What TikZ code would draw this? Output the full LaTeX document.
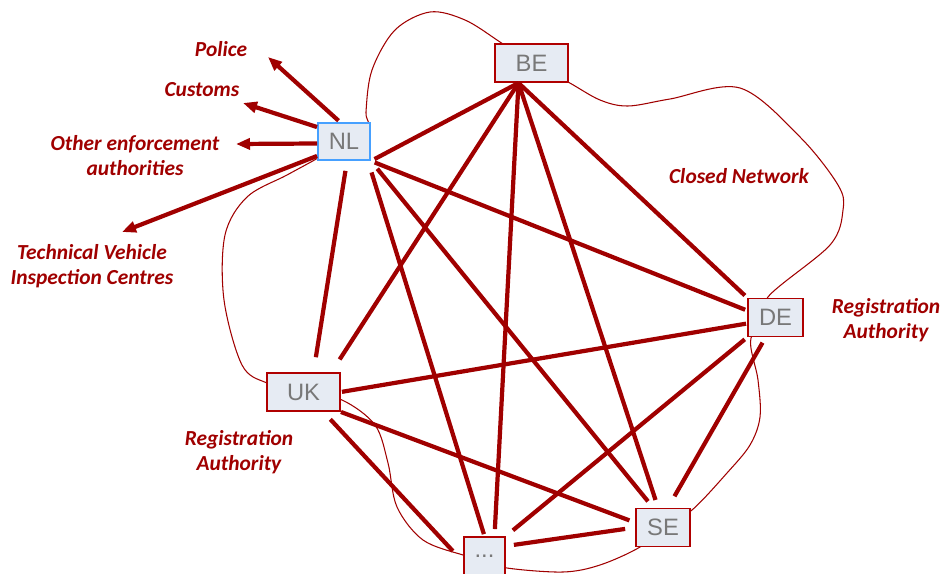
\documentclass[tikz,border=0pt]{standalone}
\usepackage{fontspec}
\setmainfont{Carlito}
\newfontfamily\boxfont{Liberation Sans}
\usetikzlibrary{arrows.meta, positioning, calc}

\definecolor{netred}{RGB}{160,0,0}
\definecolor{boxedge}{RGB}{176,0,0}
\definecolor{boxfill}{RGB}{230,235,243}
\definecolor{boxgray}{RGB}{120,120,120}
\definecolor{nlblue}{RGB}{70,160,255}

\begin{document}
\begin{tikzpicture}[x=0.02cm, y=-0.02cm,
    member/.style={draw=boxedge, line width=1.1pt, fill=boxfill, minimum height=0.76cm, inner sep=0pt, font=\boxfont\fontsize{13.5}{15}\selectfont, text=boxgray},
    link/.style={netred, line width=2.4pt},
    feed/.style={netred, line width=2.4pt, -{Triangle[length=0.28cm,width=0.22cm]}},
    authority/.style={text=netred, font=\bfseries\itshape\fontsize{12.2}{14.2}\selectfont, align=center},
    hull/.style={netred, line width=0.6pt}]
    \useasboundingbox (0,0) rectangle (943,574);

    % Closed network outline
    \draw [hull] plot [smooth cycle, tension=0.55] coordinates {
        (368,127) (366,112) (372,70) (395,30) (430,12) (465,20) (500,42)
        (531,63) (568,82) (600,100) (628,106) (670,99) (740,88) (800,137)
        (838,185) (843,210) (830,245) (768,297) (775,318) (751,338) (758,380)
        (760,417) (750,445) (727,473) (692,510) (663,527) (640,547) (600,565)
        (563,572) (507,568) (485,560) (463,555) (423,540) (397,507) (388,463)
        (375,425) (342,400) (303,392) (267,383) (242,365) (224,300) (225,235)
        (247,197) (287,175) (318,158) (344,142)};

    % Members
    \node (NL) [member, draw=nlblue, minimum width=1.04cm, minimum height=0.74cm] at (344,141.5) {NL};
    \node (BE) [member, minimum width=1.46cm] at (531.5,63) {BE};
    \node (DE) [member, minimum width=1.10cm] at (775.5,317.5) {DE};
    \node (UK) [member, minimum width=1.46cm] at (303.5,392) {UK};
    \node (SE) [member, minimum width=1.08cm] at (663,527.5) {SE};
    \node (dots) [member, minimum width=0.82cm] at (484.5,556) {...};
    \coordinate (BEhub) at ($(BE.south)+(-13,0)$);

    % Labels
    \node (police) [authority] at (221,49) {Police};
    \node (customs) [authority] at (202,90) {Customs};
    \node (enforce) [authority] at (135,156) {Other enforcement\\authorities};
    \node (inspect) [authority] at (92,266) {Technical Vehicle\\Inspection Centres};
    \node (closed) [authority] at (739,176) {Closed Network};
    \node (regDE) [authority] at (886,320) {Registration\\Authority};
    \node (regUK) [authority] at (239,452) {Registration\\Authority};

    % Arrow tips
    \coordinate (policetip) at (268,57);
    \coordinate (customstip) at (243,103);
    \coordinate (enforcetip) at (236,144);
    \coordinate (inspecttip) at (122,232);

    % Outgoing feeds from NL
    \draw [feed, shorten <=0.04cm] ([shift={(-4,0)}]NL.north) -- (policetip);
    \draw [feed] ([shift={(0,5)}]NL.north west) -- (customstip);
    \draw [feed] ([shift={(0,2)}]NL.west) -- (enforcetip);
    \draw [feed] ([shift={(0,-5)}]NL.south west) -- (inspecttip);

    % Links
    \draw [link, shorten <=0.08cm] (NL.south east) -- (BEhub);
    \draw [link, shorten <=0.08cm, shorten >=0.04cm] (NL.south east) -- ([shift={(0,-7)}]DE.west);
    \draw [link, shorten <=0.2cm, shorten >=0.3cm] ([shift={(3,0)}]NL.south) -- ([shift={(10,0)}]UK.north);
    \draw [link, shorten <=0.24cm, shorten >=0.04cm] ([shift={(-3,0)}]NL.south east) -- (dots.north);
    \draw [link, shorten <=0.2cm, shorten >=0.16cm] (NL.south east) -- ([shift={(-10,0)}]SE.north);

    \draw [link, shorten >=0.3cm] (BEhub) -- ([shift={(28,0)}]UK.north);
    \draw [link, shorten >=0.14cm] (BEhub) -- ([shift={(10,0)}]dots.north);
    \draw [link, shorten >=0.16cm] (BEhub) -- ([shift={(-5,0)}]SE.north);
    \draw [link, shorten >=0.06cm] (BEhub) -- (DE.north west);

    \draw [link, shorten <=0.02cm, shorten >=0.02cm] ([shift={(0,6)}]DE.west) -- (UK.east);
    \draw [link, shorten <=0.06cm, shorten >=0.18cm] (DE.south west) -- (dots.north east);
    \draw [link, shorten <=0.12cm, shorten >=0.26cm] ([shift={(-10,0)}]DE.south) -- ([shift={(5,0)}]SE.north);

    \draw [link, shorten >=0.12cm] (UK.south east) -- ([shift={(0,-5)}]SE.west);
    \draw [link, shorten <=0.2cm, shorten >=0.3cm] ([shift={(20,0)}]UK.south) -- ([shift={(0,6)}]dots.west);
    \draw [link, shorten <=0.2cm, shorten >=0.16cm] (SE.west) -- ([shift={(0,-10)}]dots.east);
\end{tikzpicture}
\end{document}
